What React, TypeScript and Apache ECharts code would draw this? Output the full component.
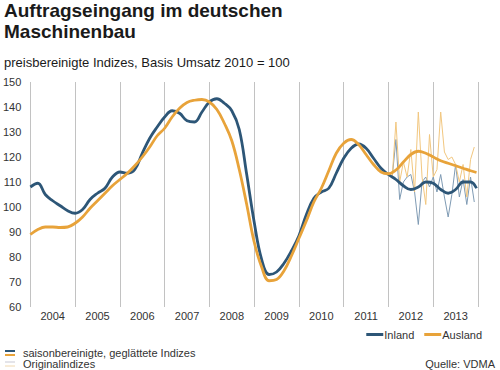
import React, { useEffect, useRef } from "react";
import * as echarts from "echarts";

const years = ["2004", "2005", "2006", "2007", "2008", "2009", "2010", "2011", "2012", "2013"];
const yTicks = [60, 70, 80, 90, 100, 110, 120, 130, 140, 150];

// months since Jan 2004
const smoothMonths = [0, 2, 4, 6, 8, 10, 12, 14, 16, 18, 20, 22, 24, 26, 28, 30, 32, 34, 36, 38, 40, 42, 44, 46, 48, 50, 52, 54, 56, 58, 60, 62, 64, 66, 68, 70, 72, 74, 76, 78, 80, 82, 84, 86, 88, 90, 92, 94, 96, 98, 100, 102, 104, 106, 108, 110, 112, 114, 116, 118, 119.6];
const inlandSmooth = [108, 109.5, 105, 102.5, 100.5, 98.5, 97.5, 99, 103, 105.5, 107.5, 112, 114, 113.5, 115, 121.5, 127.5, 132, 136, 138.5, 137.5, 134.5, 134, 138, 142, 143.3, 141.5, 138.5, 131, 113, 94, 79, 73, 74, 77.5, 82.5, 88.5, 97, 103.5, 106, 107.5, 113.5, 119.5, 123.5, 125.2, 123.5, 119.5, 115.5, 113, 111, 108.5, 107, 108, 110, 109.5, 107, 105.5, 107, 110, 110, 107.5];
const auslandSmooth = [89, 91, 92, 92, 91.8, 92, 93.5, 96, 99.5, 102.5, 105.5, 108.5, 111, 113.5, 116.5, 120, 124, 128.5, 131.5, 136, 139.5, 141.8, 142.7, 143, 142, 139, 133.5, 126.5, 115, 101, 86, 76, 70.5, 71, 74.5, 80.5, 87.5, 94.5, 102, 107.5, 114.5, 121.5, 125.5, 127, 125, 121, 117, 114, 113.3, 114.8, 118, 121, 122.3, 121.5, 120, 118.5, 117.5, 116.5, 115.5, 114.5, 113.8];

const origMonths = [96, 97, 98, 99, 100, 101, 102, 103, 104, 105, 106, 107, 108, 109, 110, 111, 112, 113, 114, 115, 116, 117, 118, 119];
const inlandOrig = [113, 112, 127, 103, 110, 112, 113, 106, 93, 110, 112, 108, 112, 106, 113, 104, 96, 105, 117, 104, 111, 101, 112, 102];
const auslandOrig = [113, 112, 134, 110, 118, 112, 123, 106, 138, 112, 101, 129, 112, 115, 138, 122, 119, 120, 117, 110, 117, 104, 119, 124];

const BLUE = "#2d5677";
const ORANGE = "#e8a33a";
const BLUE_L = "#7f9bb4";
const ORANGE_L = "#f2c77f";

const pairs = (xs: number[], ys: number[]) => xs.map((x, i) => [x, ys[i]]);

export default function App() {
  const ref = useRef<HTMLDivElement>(null);
  useEffect(() => {
    if (!ref.current) return;
    const chart = echarts.init(ref.current, null, { renderer: "svg" });
    const font = "Liberation Sans, Arial, sans-serif";
    chart.setOption({
      animation: false,
      backgroundColor: "#ffffff",
      textStyle: { fontFamily: font },
      grid: { left: 28, right: 22, top: 82, bottom: 63, containLabel: false },
      title: [
        {
          text: "Auftragseingang im deutschen\nMaschinenbau",
          left: 4,
          top: 0,
          padding: 0,
          textStyle: { fontSize: 19, fontWeight: "bold", color: "#1a1a1a", lineHeight: 21, fontFamily: font },
        },
        {
          text: "preisbereinigte Indizes, Basis Umsatz 2010 = 100",
          left: 4,
          top: 56,
          padding: 0,
          textStyle: { fontSize: 13, fontWeight: "normal", color: "#1a1a1a", fontFamily: font },
        },
      ],
      legend: {
        data: ["Inland", "Ausland"],
        right: 18,
        top: 329,
        icon: "rect",
        itemWidth: 17,
        itemHeight: 3,
        itemGap: 10,
        padding: 0,
        textStyle: { fontSize: 11, color: "#333", padding: [0, 0, 0, -4] },
      },
      xAxis: [
        {
          type: "value",
          min: 0,
          max: 120,
          interval: 12,
          axisLine: { show: false },
          axisTick: { show: false },
          axisLabel: { show: false },
          splitLine: { show: true, lineStyle: { color: "#c2c2c2", width: 1 } },
        },
        {
          type: "category",
          data: years,
          boundaryGap: true,
          position: "bottom",
          axisLine: { show: false },
          axisTick: { show: false },
          splitLine: { show: false },
          axisLabel: { fontSize: 11, color: "#333", margin: 3 },
        },
      ],
      yAxis: {
        type: "value",
        min: yTicks[0],
        max: yTicks[yTicks.length - 1],
        interval: 10,
        axisLine: { show: false },
        axisTick: { show: false },
        splitLine: { show: false },
        axisLabel: { fontSize: 11, color: "#333", margin: 9 },
      },
      series: [
        {
          name: "Inland Original",
          type: "line",
          data: pairs(origMonths, inlandOrig),
          showSymbol: false,
          lineStyle: { color: BLUE_L, width: 1 },
          itemStyle: { color: BLUE_L },
        },
        {
          name: "Ausland Original",
          type: "line",
          data: pairs(origMonths, auslandOrig),
          showSymbol: false,
          lineStyle: { color: ORANGE_L, width: 1 },
          itemStyle: { color: ORANGE_L },
        },
        {
          name: "Inland",
          type: "line",
          data: pairs(smoothMonths, inlandSmooth),
          smooth: 0.4,
          showSymbol: false,
          lineStyle: { color: BLUE, width: 2.8 },
          itemStyle: { color: BLUE },
        },
        {
          name: "Ausland",
          type: "line",
          data: pairs(smoothMonths, auslandSmooth),
          smooth: 0.4,
          showSymbol: false,
          lineStyle: { color: ORANGE, width: 2.8 },
          itemStyle: { color: ORANGE },
        },
      ],
      graphic: [
        { type: "line", shape: { x1: 5, y1: 351, x2: 15, y2: 351 }, style: { stroke: BLUE, lineWidth: 2 } },
        { type: "line", shape: { x1: 5, y1: 355, x2: 15, y2: 355 }, style: { stroke: ORANGE, lineWidth: 2 } },
        { type: "text", x: 23, y: 353, style: { text: "saisonbereinigte, geglättete Indizes", fontSize: 11, fill: "#333", fontFamily: font, verticalAlign: "middle" } },
        { type: "line", shape: { x1: 5, y1: 362, x2: 15, y2: 362 }, style: { stroke: "#c9c9d4", lineWidth: 1 } },
        { type: "line", shape: { x1: 5, y1: 366, x2: 15, y2: 366 }, style: { stroke: "#f0d8b0", lineWidth: 1 } },
        { type: "text", x: 23, y: 364, style: { text: "Originalindizes", fontSize: 11, fill: "#333", fontFamily: font, verticalAlign: "middle" } },
        { type: "text", x: 495, y: 364, style: { text: "Quelle: VDMA", fontSize: 11, fill: "#333", fontFamily: font, align: "right", verticalAlign: "middle" } },
      ],
    });
    return () => chart.dispose();
  }, []);
  return <div ref={ref} style={{ position: "fixed", left: 0, top: 0, width: 500, height: 370 }} />;
}
